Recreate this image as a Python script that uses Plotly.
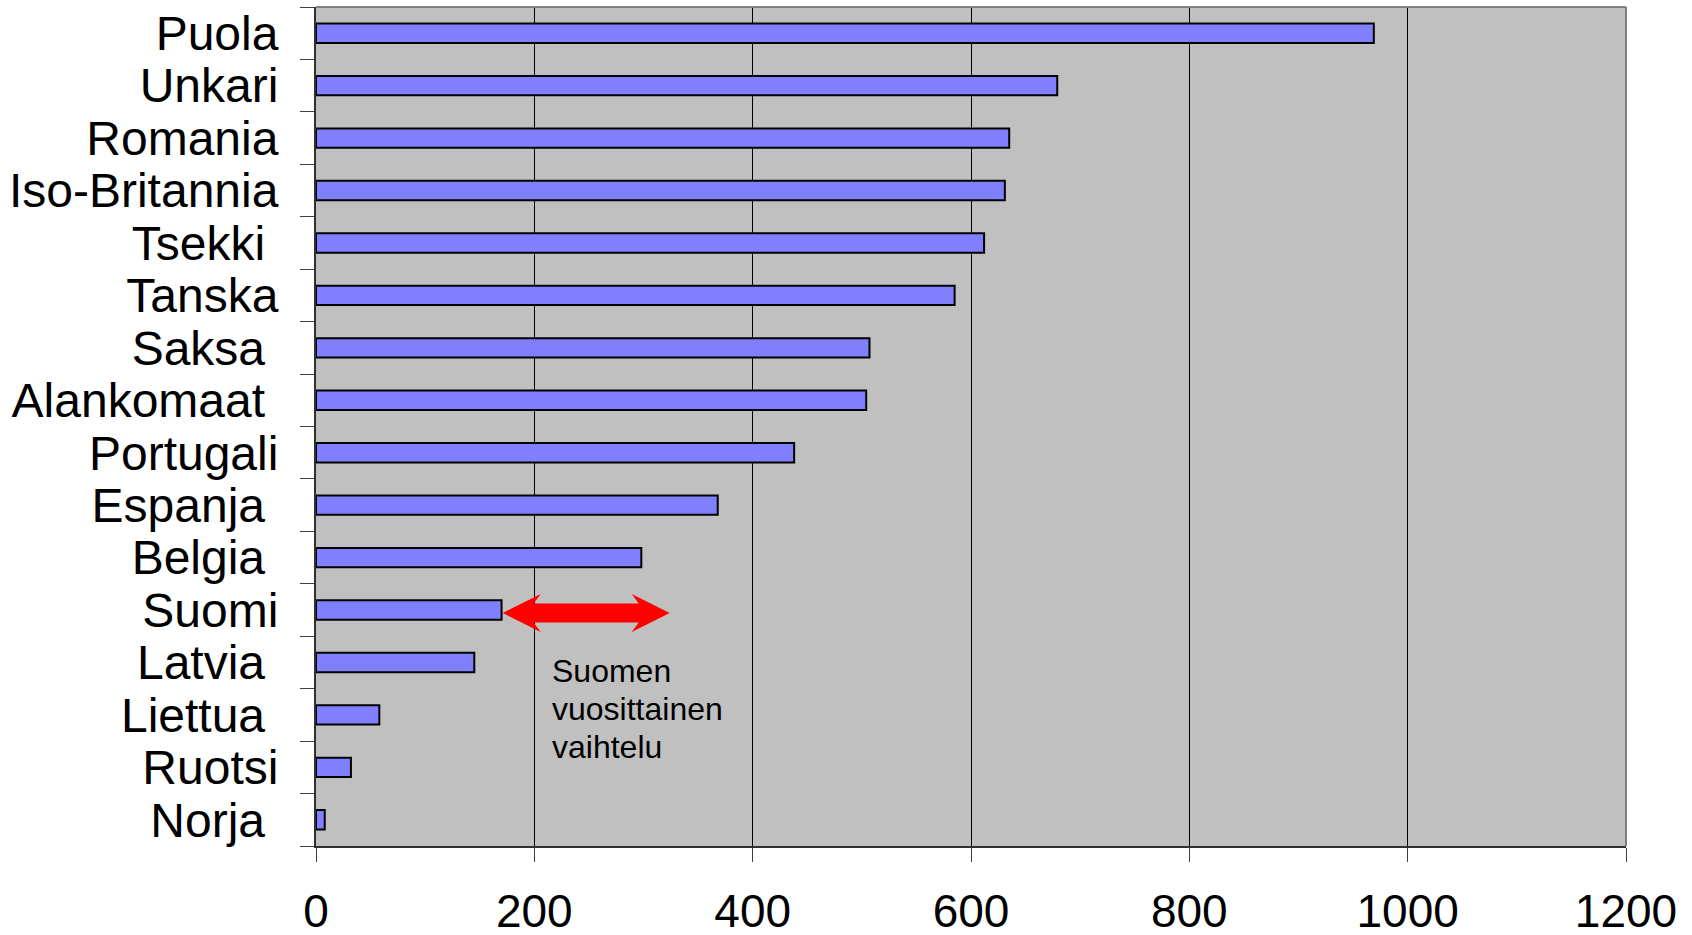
import plotly.graph_objects as go

countries = ["Puola", "Unkari", "Romania", "Iso-Britannia", "Tsekki", "Tanska", "Saksa",
             "Alankomaat", "Portugali", "Espanja", "Belgia", "Suomi", "Latvia", "Liettua",
             "Ruotsi", "Norja"]
tick_labels = ["Puola", "Unkari", "Romania", "Iso-Britannia", "Tsekki\u00a0", "Tanska",
               "Saksa\u00a0", "Alankomaat\u00a0", "Portugali", "Espanja\u00a0", "Belgia\u00a0",
               "Suomi", "Latvia\u00a0", "Liettua\u00a0", "Ruotsi", "Norja\u00a0"]
values = [969, 679, 635, 631, 612, 585, 507, 504, 438, 368, 298, 170, 145, 58, 32, 8]
x_ticks = [0, 200, 400, 600, 800, 1000, 1200]

# Finland's yearly variation range (annotation arrow)
suomi_range = [171, 324]
annot_lines = ["Suomen", "vuosittainen", "vaihtelu"]

FONT = "Liberation Sans, Arial, sans-serif"

W, H = 1692, 935
ml, mr, mt, mb = 316, 66, 7, 89
plot_w = W - ml - mr
plot_h = H - mt - mb
xmax = 1200
px_per_unit = plot_w / xmax

fig = go.Figure()
fig.add_trace(go.Bar(
    y=countries, x=values, orientation="h", width=0.37,
    marker=dict(color="#8080FF", line=dict(color="#000000", width=2)),
    hoverinfo="x+y",
))

# Arrow shape (x in data units, y in paper units)
n = len(countries)
idx = countries.index("Suomi")
yc = 1 - (idx + 0.5) / n - 3 / plot_h
Hh = 19 / plot_h
Sh = 9.5 / plot_h
hl = 38 / px_per_unit
nb = 31 / px_per_unit
x0, x1 = suomi_range
pts = [
    (x0, yc), (x0 + hl, yc + Hh), (x0 + nb, yc + Sh), (x1 - nb, yc + Sh),
    (x1 - hl, yc + Hh), (x1, yc), (x1 - hl, yc - Hh), (x1 - nb, yc - Sh),
    (x0 + nb, yc - Sh), (x0 + hl, yc - Hh),
]
path = "M " + " L ".join(f"{px},{py}" for px, py in pts) + " Z"

shapes = [
    dict(type="path", path=path, xref="x", yref="paper",
         fillcolor="#FF0000", line=dict(width=0), layer="above"),
    # top and right frame in gray
    dict(type="line", xref="paper", yref="paper", x0=0, x1=1, y0=1, y1=1,
         line=dict(color="#808080", width=2)),
    dict(type="line", xref="paper", yref="paper", x0=1, x1=1, y0=0, y1=1,
         line=dict(color="#808080", width=2)),
]

line_centers_px = [671, 709, 747]
annotations = [
    dict(text=t, x=214, xref="x", y=(plot_h - (yp - mt)) / plot_h, yref="paper",
         xanchor="left", yanchor="middle", align="left", showarrow=False,
         font=dict(family=FONT, size=32, color="black"))
    for t, yp in zip(annot_lines, line_centers_px)
]

fig.update_layout(
    width=W, height=H,
    margin=dict(l=ml, r=mr, t=mt, b=mb, autoexpand=False),
    paper_bgcolor="white", plot_bgcolor="#C0C0C0",
    showlegend=False,
    font=dict(family=FONT, color="black"),
    shapes=shapes,
    annotations=annotations,
)

fig.update_xaxes(
    range=[0, xmax], tickvals=x_ticks, ticktext=[str(v) for v in x_ticks],
    showgrid=True, gridcolor="#000000", gridwidth=1,
    showline=True, linecolor="#303030", linewidth=2,
    ticks="outside", ticklen=14, tickcolor="#404040", tickwidth=1,
    tickfont=dict(family=FONT, size=46, color="black"),
    ticklabelstandoff=10, zeroline=False, fixedrange=True, automargin=False,
)
fig.update_yaxes(
    categoryorder="array", categoryarray=countries,
    tickvals=countries, ticktext=tick_labels,
    autorange="reversed",
    showgrid=False, showline=True, linecolor="#303030", linewidth=2,
    ticks="outside", ticklen=14, tickcolor="#404040", tickwidth=1,
    tickson="boundaries",
    tickfont=dict(family=FONT, size=48, color="black"),
    ticklabelstandoff=26, fixedrange=True, automargin=False,
)

fig.write_html(
    "out.html",
    config={"displayModeBar": False},
    post_script="document.body.style.margin='0';document.body.style.overflow='hidden';",
)
